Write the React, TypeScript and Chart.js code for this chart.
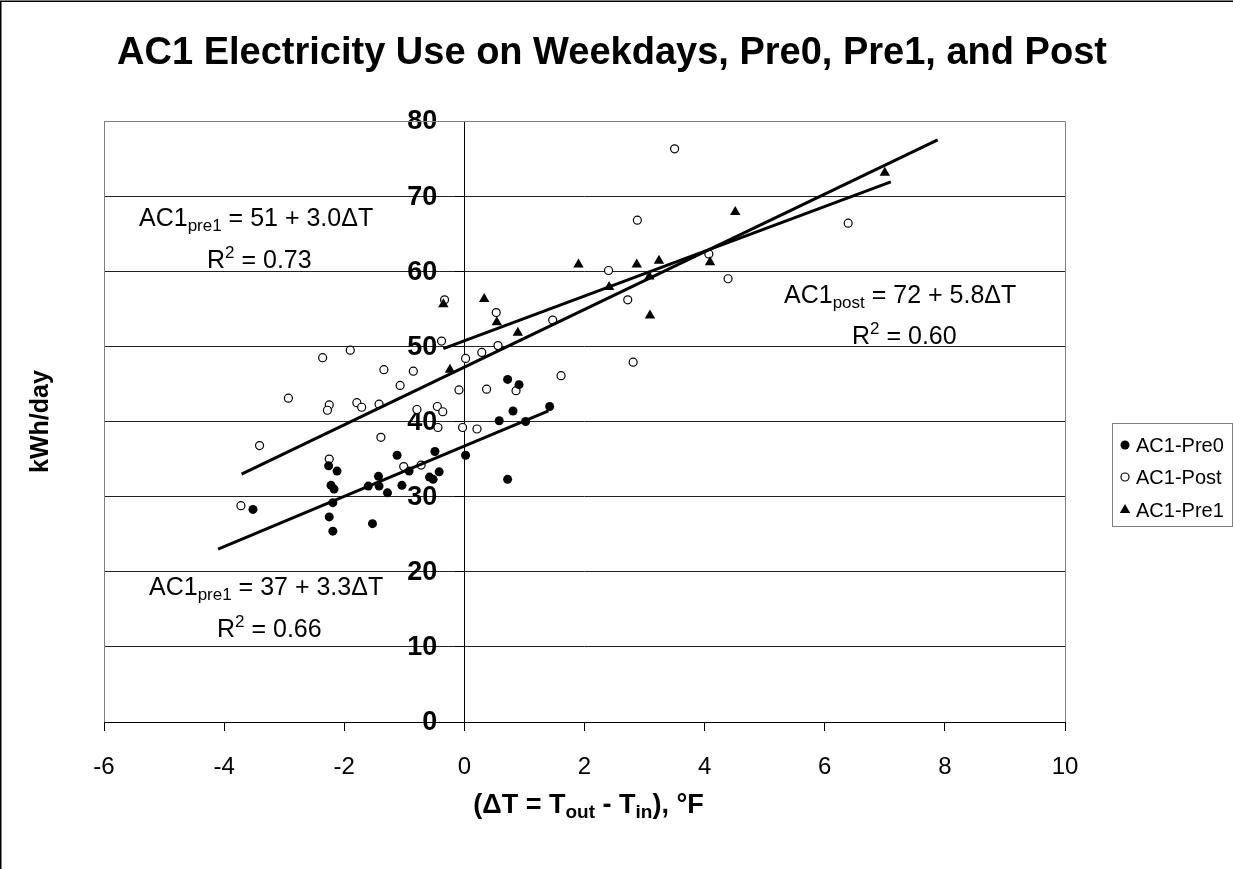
import React, { useEffect, useRef } from 'react';
import { Chart, registerables } from 'chart.js';

Chart.register(...registerables);

const FONT = "'Liberation Sans', Arial, Helvetica, sans-serif";

// ---- data (ΔT in °F, electricity in kWh/day) ----
const pre0DT = [-2.26, -2.12, -1.12, -0.49, 0.02, -1.43, -0.92, -0.58, -0.52, -0.42, -2.22, -2.17, -1.60, -1.42, -1.04, -1.28, -2.19, -3.52, -2.25, -1.53, -2.19, 0.72, 0.91, 0.81, 1.42, 0.58, 1.02, 0.72];
const pre0KWh = [34.1, 33.4, 35.5, 36.0, 35.5, 32.7, 33.4, 32.6, 32.3, 33.3, 31.5, 31.0, 31.4, 31.4, 31.5, 30.5, 29.2, 28.3, 27.3, 26.4, 25.4, 45.6, 44.9, 41.4, 42.0, 40.1, 40.0, 32.3];

const postDT = [-0.38, -2.36, -1.90, 0.02, 0.29, -1.34, -0.85, -1.07, -0.09, -2.93, -2.25, -2.28, -1.79, -1.71, -1.42, -0.79, -0.45, -0.36, -0.44, -0.03, 0.21, -3.41, -1.39, -2.25, -1.01, -0.72, -3.72, -0.33, 0.53, 1.47, 0.56, 0.37, 0.86, 1.61, 3.50, 2.88, 6.39, 4.07, 2.40, 4.39, 2.72, 2.81];
const postKWh = [50.7, 48.5, 49.5, 48.4, 49.2, 46.9, 46.7, 44.8, 44.2, 43.1, 42.2, 41.5, 42.5, 41.9, 42.3, 41.6, 42.0, 41.3, 39.2, 39.2, 39.0, 36.8, 37.9, 35.0, 34.0, 34.2, 28.8, 56.2, 54.5, 53.5, 50.1, 44.3, 44.1, 46.1, 76.3, 66.8, 66.4, 62.3, 60.1, 59.0, 56.2, 47.9];

const pre1DT = [-0.35, 0.33, 0.54, 0.89, -0.24, 1.90, 2.87, 3.24, 4.09, 3.08, 2.41, 3.09, 4.51, 7.00];
const pre1KWh = [55.6, 56.3, 53.2, 51.8, 46.9, 60.9, 60.9, 61.4, 61.2, 59.3, 57.9, 54.1, 67.9, 73.1];

// trend lines (end points)
const pre0LineDT = [-4.1, 1.4];
const pre0LineKWh = [23.0, 41.4];
const postLineDT = [-3.71, 7.88];
const postLineKWh = [33.0, 77.5];
const pre1LineDT = [-0.35, 7.1];
const pre1LineKWh = [49.7, 71.9];

const xTicks = { min: -6, max: 10, step: 2 };
const yTicks = { min: 0, max: 80, step: 10 };

const seriesNames = ['AC1-Pre0', 'AC1-Post', 'AC1-Pre1'];
const titleText = 'AC1 Electricity Use on Weekdays, Pre0, Pre1, and Post';
const yTitle = 'kWh/day';

const toPts = (xs: number[], ys: number[]) => xs.map((x, i) => ({ x, y: ys[i] }));

type Part = { t: string; size: number; dy?: number; bold?: boolean };

function setFont(ctx: CanvasRenderingContext2D, p: Part) {
  ctx.font = `${p.bold ? 'bold ' : ''}${p.size}px ${FONT}`;
}
function partsWidth(ctx: CanvasRenderingContext2D, parts: Part[]) {
  let w = 0;
  for (const p of parts) {
    setFont(ctx, p);
    w += ctx.measureText(p.t).width;
  }
  return w;
}
function drawParts(ctx: CanvasRenderingContext2D, x: number, y: number, parts: Part[]) {
  let cx = x;
  for (const p of parts) {
    setFont(ctx, p);
    ctx.fillText(p.t, cx, y + (p.dy || 0));
    cx += ctx.measureText(p.t).width;
  }
}

const EQ = 25;
const SUB = 17;
const eqPre1: Part[] = [
  { t: 'AC1', size: EQ },
  { t: 'pre1', size: SUB, dy: 5 },
  { t: ' = 51 + 3.0ΔT', size: EQ },
];
const r2Pre1: Part[] = [
  { t: 'R', size: EQ },
  { t: '2', size: SUB, dy: -10 },
  { t: ' = 0.73', size: EQ },
];
const eqPost: Part[] = [
  { t: 'AC1', size: EQ },
  { t: 'post', size: SUB, dy: 5 },
  { t: ' = 72 + 5.8ΔT', size: EQ },
];
const r2Post: Part[] = [
  { t: 'R', size: EQ },
  { t: '2', size: SUB, dy: -10 },
  { t: ' = 0.60', size: EQ },
];
const eqPre0: Part[] = [
  { t: 'AC1', size: EQ },
  { t: 'pre1', size: SUB, dy: 5 },
  { t: ' = 37 + 3.3ΔT', size: EQ },
];
const r2Pre0: Part[] = [
  { t: 'R', size: EQ },
  { t: '2', size: SUB, dy: -10 },
  { t: ' = 0.66', size: EQ },
];
const xTitle: Part[] = [
  { t: '(ΔT = T', size: 27, bold: true },
  { t: 'out', size: 19, dy: 5, bold: true },
  { t: ' - T', size: 27, bold: true },
  { t: 'in', size: 19, dy: 5, bold: true },
  { t: '), °F', size: 27, bold: true },
];

const decorPlugin = {
  id: 'decor',
  beforeDatasetsDraw(chart: any) {
    // y tick labels, left of the y axis that crosses at x = 0
    const ctx: CanvasRenderingContext2D = chart.ctx;
    const ys = chart.scales.y;
    const xs = chart.scales.x;
    const ax = xs.getPixelForValue(0);
    ctx.save();
    ctx.fillStyle = '#000';
    ctx.font = `bold 27px ${FONT}`;
    ctx.textAlign = 'right';
    ctx.textBaseline = 'middle';
    ys.ticks.forEach((t: any) => {
      ctx.fillText(String(t.value), ax - 27, ys.getPixelForValue(t.value) + 1);
    });
    ctx.restore();
  },
  afterDraw(chart: any) {
    const ctx: CanvasRenderingContext2D = chart.ctx;
    const a = chart.chartArea;
    ctx.save();
    // outer frame (top and left visible)
    ctx.strokeStyle = '#000';
    ctx.lineWidth = 1.5;
    ctx.beginPath();
    ctx.moveTo(0.75, 869);
    ctx.lineTo(0.75, 1.25);
    ctx.lineTo(1233, 1.25);
    ctx.stroke();

    // plot border (gray) left, top, right
    ctx.strokeStyle = '#808080';
    ctx.lineWidth = 1;
    ctx.beginPath();
    ctx.moveTo(Math.round(a.left) + 0.5, Math.round(a.bottom));
    ctx.lineTo(Math.round(a.left) + 0.5, Math.round(a.top) + 0.5);
    ctx.lineTo(Math.round(a.right) + 0.5, Math.round(a.top) + 0.5);
    ctx.lineTo(Math.round(a.right) + 0.5, Math.round(a.bottom));
    ctx.stroke();

    ctx.fillStyle = '#000';
    ctx.textBaseline = 'alphabetic';

    // title
    ctx.font = `bold 38px ${FONT}`;
    ctx.textAlign = 'center';
    ctx.fillText(titleText, 612, 64);

    // y title
    ctx.save();
    ctx.translate(48, (a.top + a.bottom) / 2);
    ctx.rotate(-Math.PI / 2);
    ctx.font = `bold 25px ${FONT}`;
    ctx.textAlign = 'center';
    ctx.fillText(yTitle, 0, 0);
    ctx.restore();

    ctx.textAlign = 'left';
    // x title
    const xw = partsWidth(ctx, xTitle);
    drawParts(ctx, (a.left + a.right) / 2 - xw / 2 + 4, 813, xTitle);

    // equations
    drawParts(ctx, 139, 226, eqPre1);
    drawParts(ctx, 207, 268, r2Pre1);
    drawParts(ctx, 784, 303, eqPost);
    drawParts(ctx, 852, 344, r2Post);
    drawParts(ctx, 149, 595, eqPre0);
    drawParts(ctx, 217, 637, r2Pre0);

    // legend
    const lx = 1112, ly = 423, lw = 121, lh = 104;
    ctx.fillStyle = '#fff';
    ctx.fillRect(lx, ly, lw, lh);
    ctx.strokeStyle = '#808080';
    ctx.lineWidth = 1;
    ctx.strokeRect(lx + 0.5, ly + 0.5, lw - 1, lh - 1);
    const rows = [445, 477, 510];
    const mx = 1125;
    ctx.fillStyle = '#000';
    ctx.strokeStyle = '#000';
    ctx.beginPath();
    ctx.arc(mx, rows[0], 4.5, 0, Math.PI * 2);
    ctx.fill();
    ctx.beginPath();
    ctx.arc(mx, rows[1], 4, 0, Math.PI * 2);
    ctx.fillStyle = '#fff';
    ctx.fill();
    ctx.lineWidth = 1.2;
    ctx.stroke();
    ctx.fillStyle = '#000';
    ctx.beginPath();
    ctx.moveTo(mx, rows[2] - 6);
    ctx.lineTo(mx + 5.2, rows[2] + 3);
    ctx.lineTo(mx - 5.2, rows[2] + 3);
    ctx.closePath();
    ctx.fill();
    ctx.font = `20px ${FONT}`;
    ctx.textBaseline = 'middle';
    seriesNames.forEach((n, i) => ctx.fillText(n, 1136, rows[i] + 1));
    ctx.restore();
  },
};

export default function App() {
  const ref = useRef<HTMLCanvasElement | null>(null);

  useEffect(() => {
    document.body.style.margin = '0';
    const canvas = ref.current;
    if (!canvas) return;
    const lineDs = (xs: number[], ys: number[]) => ({
      type: 'scatter' as const,
      data: toPts(xs, ys),
      showLine: true,
      borderColor: '#000',
      borderWidth: 3,
      pointRadius: 0,
      fill: false,
    });
    const chart = new Chart(canvas, {
      type: 'scatter',
      data: {
        datasets: [
          lineDs(pre0LineDT, pre0LineKWh),
          lineDs(postLineDT, postLineKWh),
          lineDs(pre1LineDT, pre1LineKWh),
          {
            label: seriesNames[0],
            data: toPts(pre0DT, pre0KWh),
            pointStyle: 'circle',
            pointRadius: 4.5,
            backgroundColor: '#000',
            borderColor: '#000',
            borderWidth: 0,
          },
          {
            label: seriesNames[2],
            data: toPts(pre1DT, pre1KWh),
            pointStyle: 'triangle',
            pointRadius: 6,
            backgroundColor: '#000',
            borderColor: '#000',
            borderWidth: 0,
          },
          {
            label: seriesNames[1],
            data: toPts(postDT, postKWh),
            pointStyle: 'circle',
            pointRadius: 4,
            backgroundColor: '#fff',
            borderColor: '#000',
            borderWidth: 1.2,
          },
        ] as any,
      },
      options: {
        animation: false,
        responsive: false,
        maintainAspectRatio: false,
        events: [],
        layout: { padding: { left: 104, right: 168, top: 121, bottom: 87 } },
        plugins: {
          legend: { display: false },
          title: { display: false },
          tooltip: { enabled: false },
        },
        scales: {
          x: {
            type: 'linear',
            position: 'bottom',
            min: xTicks.min,
            max: xTicks.max,
            afterFit: (s: any) => {
              s.height = 60;
            },
            ticks: {
              stepSize: xTicks.step,
              color: '#000',
              padding: 22,
              maxRotation: 0,
              autoSkip: false,
              font: { family: FONT, size: 24 },
            },
            grid: { drawOnChartArea: false, drawTicks: true, tickLength: 9, color: '#000' },
            border: { display: true, color: '#000', width: 1 },
          },
          y: {
            type: 'linear',
            position: { x: 0 } as any,
            min: yTicks.min,
            max: yTicks.max,
            ticks: {
              display: false,
              stepSize: yTicks.step,
            },
            grid: {
              color: (c: any) => (c.tick && c.tick.value === yTicks.max ? '#808080' : '#222'),
              tickColor: '#000',
              drawTicks: true,
              tickLength: 9,
            },
            border: { display: true, color: '#000', width: 1 },
          },
        },
      } as any,
      plugins: [decorPlugin],
    });
    return () => chart.destroy();
  }, []);

  return (
    <div style={{ position: 'absolute', left: 0, top: 0, width: 1233, height: 869, background: '#fff' }}>
      <canvas ref={ref} width={1233} height={869} style={{ display: 'block', width: 1233, height: 869 }} />
    </div>
  );
}
